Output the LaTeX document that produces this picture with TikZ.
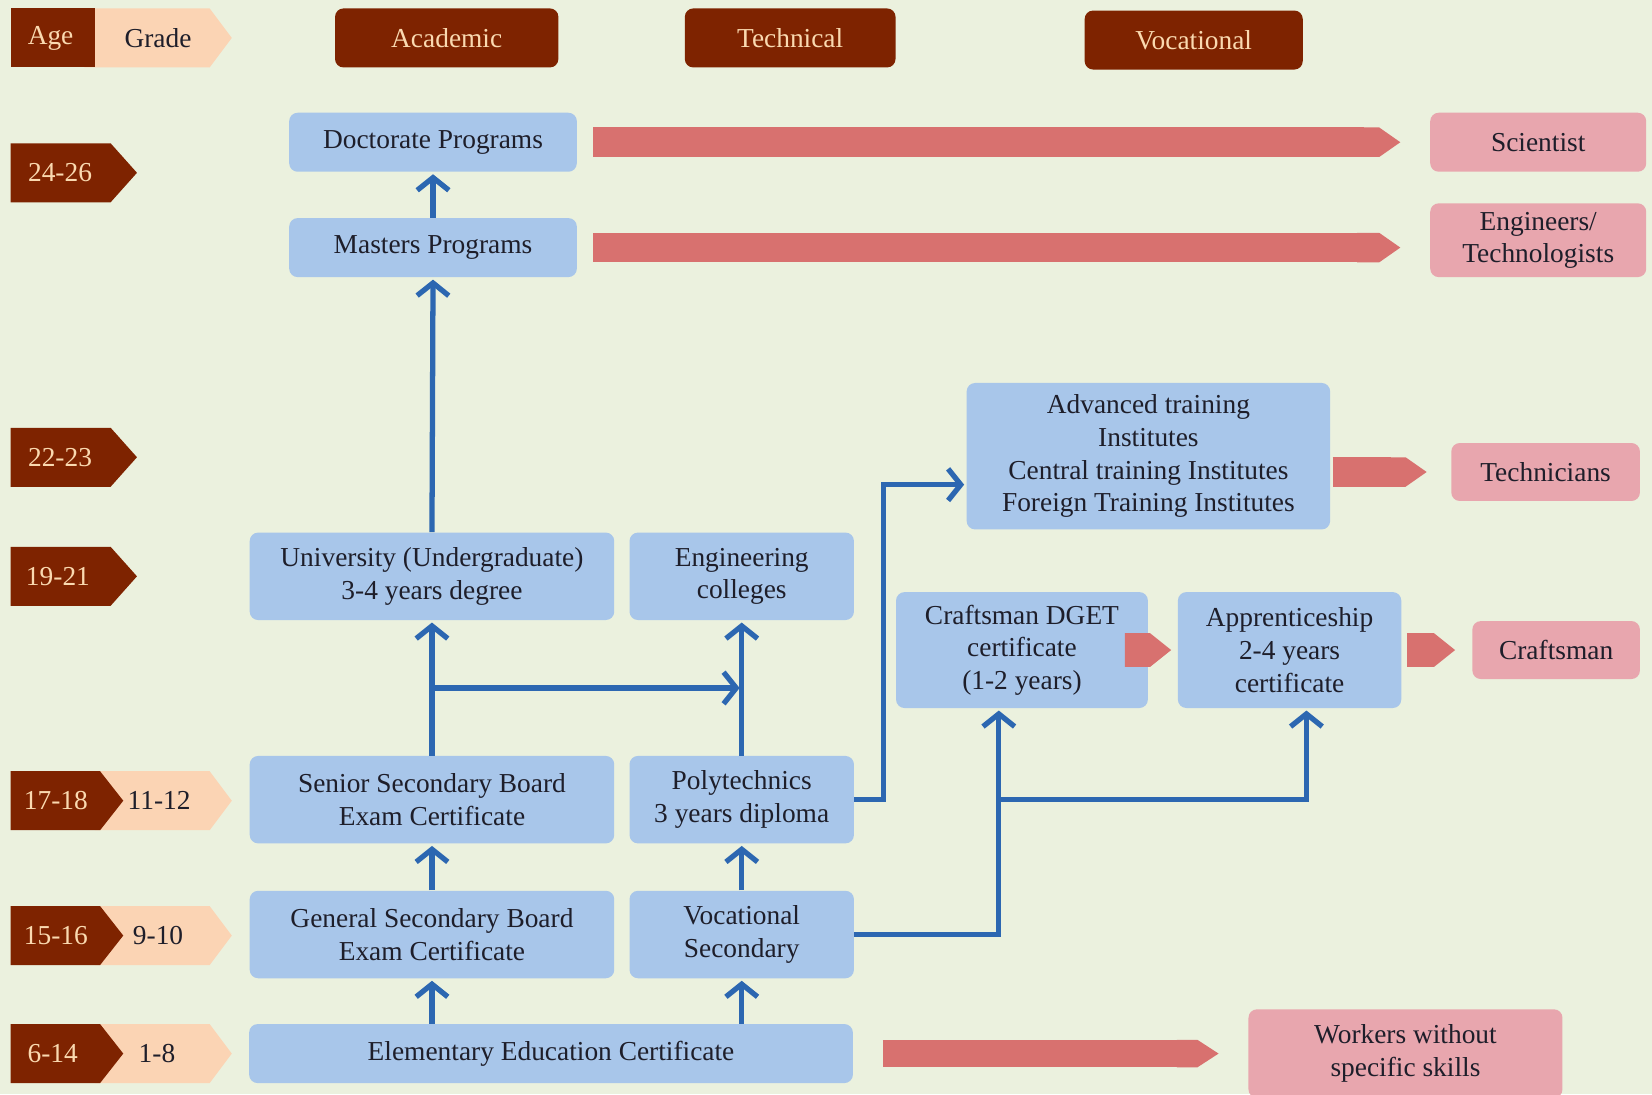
\documentclass[tikz,border=0pt]{standalone}
\usepackage{fontspec}
\setmainfont{Liberation Serif}
\usetikzlibrary{arrows.meta,calc,positioning}
\definecolor{bgcol}{HTML}{EBF1DE}
\definecolor{maroon}{HTML}{7E2300}
\definecolor{cream}{HTML}{FAD9B0}
\definecolor{peach}{HTML}{FBD4B4}
\definecolor{boxblue}{HTML}{A8C6EA}
\definecolor{boxpink}{HTML}{E8A6AE}
\definecolor{barpink}{HTML}{D8716F}
\definecolor{linkblue}{HTML}{2C67B1}
\definecolor{ink}{HTML}{1E1E2A}
\tikzset{
  txt/.style={font=\fontsize{13}{15.5}\selectfont, text=ink, align=center, inner sep=0pt},
  wh/.style 2 args={minimum width=#1*0.5pt, minimum height=#2*0.5pt},
  headbox/.style={txt, fill=maroon, text=cream, rounded corners=4pt},
  bluebox/.style={txt, fill=boxblue, rounded corners=4pt},
  pinkbox/.style={txt, fill=boxpink, rounded corners=4pt},
  tagtext/.style={txt, text=cream},
  uplink/.style={draw=linkblue, line width=2.5pt, -{Straight Barb[length=6pt,width=15pt]}, shorten >=1pt},
  flow/.style={draw=barpink, line width=14pt, -{Triangle Cap[length=10pt]}},
}
\begin{document}
\begin{tikzpicture}[x=0.5pt,y=-0.5pt]
% Background
\fill[bgcol] (0,0) rectangle (1568,1038.5);
\useasboundingbox (0,0) rectangle (1568,1038.5);
% Column headings
\fill[peach] (80,8) -- (199,8) -- (220,36) -- (199,64) -- (80,64) -- cycle;
\fill[maroon] (10,8) rectangle (90,64);
\node[tagtext] (agehead) at (48,36) {Age};
\node[txt] (gradehead) at (150,36) {Grade};
\node[headbox, wh={212}{56}] (acad) at (424,36) {Academic};
\node[headbox, wh={200}{56}] (techn) at (750,36) {Technical};
\node[headbox, wh={207}{56}] (vocat) at (1133,38) {Vocational};
% Age tags
\fill[maroon] (10,136) -- (105,136) -- (130,164) -- (105,192) -- (10,192) -- cycle;
\node[tagtext] (age2426) at (57,164) {24-26};
\fill[maroon] (10,406) -- (105,406) -- (130,434) -- (105,462) -- (10,462) -- cycle;
\node[tagtext] (age2223) at (57,434) {22-23};
\fill[maroon] (10,519) -- (105,519) -- (130,547) -- (105,575) -- (10,575) -- cycle;
\node[tagtext] (age1921) at (55,547) {19-21};
% Age and grade tags
\fill[peach] (90,732) -- (199,732) -- (220,760) -- (199,788) -- (90,788) -- cycle;
\fill[maroon] (10,732) -- (95,732) -- (117,760) -- (95,788) -- (10,788) -- cycle;
\node[tagtext] (age1718) at (53,760) {17-18};
\node[txt] (gr1112) at (151,760) {11-12};
\fill[peach] (90,860) -- (199,860) -- (220,888) -- (199,916) -- (90,916) -- cycle;
\fill[maroon] (10,860) -- (95,860) -- (117,888) -- (95,916) -- (10,916) -- cycle;
\node[tagtext] (age1516) at (53,888) {15-16};
\node[txt] (gr0910) at (150,888) {9-10};
\fill[peach] (90,972) -- (199,972) -- (220,1000) -- (199,1028) -- (90,1028) -- cycle;
\fill[maroon] (10,972) -- (95,972) -- (117,1000) -- (95,1028) -- (10,1028) -- cycle;
\node[tagtext] (age0614) at (50,1000) {6-14};
\node[txt] (gr0108) at (149,1000) {1-8};
% Academic and technical boxes
\node[bluebox, wh={273}{56}] (doc) at (411,135) {Doctorate Programs};
\node[bluebox, wh={273}{56}] (mas) at (411,235) {Masters Programs};
\node[bluebox, wh={346}{83}] (uni) at (410,547) {University (Undergraduate)\\3-4 years degree};
\node[bluebox, wh={213}{83}] (engc) at (704,547) {Engineering\\colleges};
\node[bluebox, wh={346}{83}] (sen) at (410,759) {Senior Secondary Board\\Exam Certificate};
\node[bluebox, wh={213}{83}] (poly) at (704,759) {Polytechnics\\3 years diploma};
\node[bluebox, wh={346}{83}] (gen) at (410,887) {General Secondary Board\\Exam Certificate};
\node[bluebox, wh={213}{83}] (vsec) at (704,887) {Vocational\\Secondary};
\node[bluebox, wh={573}{56}] (elem) at (523,1000) {Elementary Education Certificate};
% Vocational boxes
\node[bluebox, wh={345}{139}] (adv) at (1090,433) {Advanced training\\Institutes\\Central training Institutes\\Foreign Training Institutes};
\node[bluebox, wh={239}{110}] (dget) at (970,617) {Craftsman DGET\\certificate\\(1-2 years)};
\node[bluebox, wh={212}{110}] (app) at (1224,617) {Apprenticeship\\2-4 years\\certificate};
% Outcomes
\node[pinkbox, wh={205}{56}] (sci) at (1460,135) {Scientist};
\node[pinkbox, wh={205}{70}] (engr) at (1460,228) {Engineers/\\Technologists};
\node[pinkbox, wh={179}{55}] (tech) at (1467,448) {Technicians};
\node[pinkbox, wh={159}{55}] (craft) at (1477,617) {Craftsman};
\node[pinkbox, wh={298}{84}] (work) at (1334,1000) {Workers without\\specific skills};
% Pink flows to outcomes
\draw[flow] ($(doc.east)+(15,0)$) -- ($(sci.west)+(-28,0)$);
\draw[flow] ($(mas.east)+(15,0)$) -- ($(mas.east -| engr.west)+(-28,0)$);
\draw[flow] ($(adv.east |- tech.west)+(2,0)$) -- ($(tech.west)+(-23,0)$);
\draw[flow, line width=16pt] ($(dget.east)+(2,0)$) -- ($(app.west)+(-6,0)$);
\draw[flow, line width=16pt] ($(app.east)+(5,0)$) -- ($(craft.west)+(-16,0)$);
\draw[flow, line width=13pt] ($(elem.east)+(28,0)$) -- ($(elem.east -| work.west)+(-28,0)$);
% Blue links
\draw[uplink] (mas.north) -- (doc.south);
\draw[uplink] (uni.north) -- (mas.south);
\draw[uplink] (sen.north) -- (uni.south);
\draw[uplink] (gen.north) -- (sen.south);
\draw[uplink] (gen.south |- elem.north) -- (gen.south);
\draw[uplink] (poly.north) -- (engc.south);
\draw[uplink] (vsec.north) -- (poly.south);
\draw[uplink] (vsec.south |- elem.north) -- (vsec.south);
\coordinate (split) at ($(sen.north)!0.5!(uni.south)$);
\draw[uplink] (split) -- (split -| poly.north);
\draw[uplink] (poly.east) -- ++(28,0) |- ($(adv.west)+(0,27)$);
\coordinate (dgetin) at ($(dget.south)+(-22,0)$);
\coordinate (appin) at ($(app.south)+(16,0)$);
\draw[uplink] (vsec.east) -| (dgetin);
\draw[uplink] (dgetin |- poly.east) -| (appin);
\end{tikzpicture}
\end{document}
